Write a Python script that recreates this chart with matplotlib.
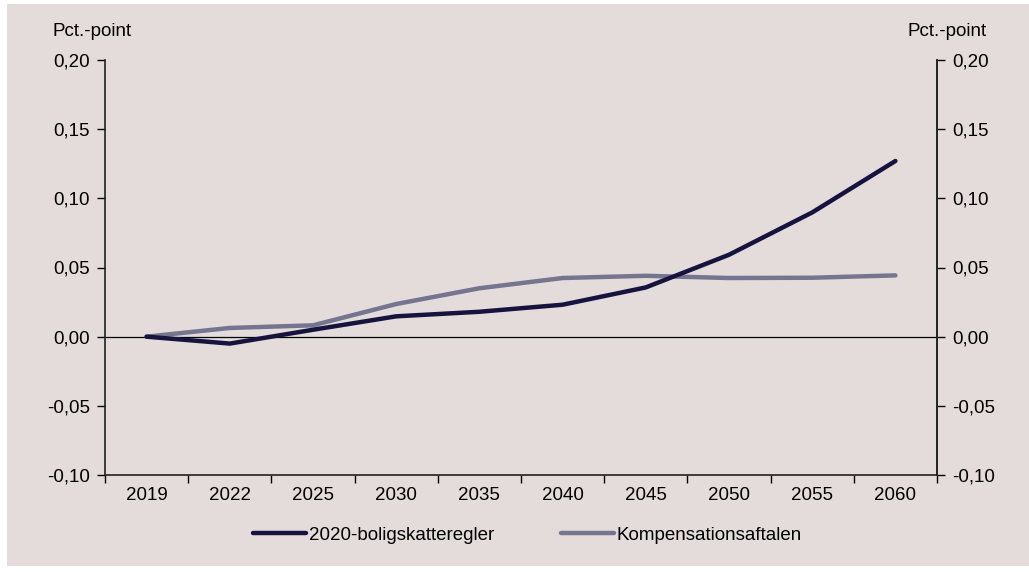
import numpy as np
import matplotlib.pyplot as plt
from matplotlib.patches import Rectangle
from matplotlib.ticker import FixedLocator, FuncFormatter

plt.rcParams['font.family'] = ['Liberation Sans', 'DejaVu Sans']

years = ['2019', '2022', '2025', '2030', '2035', '2040', '2045', '2050', '2055', '2060']
boligskat = [0.0, -0.005, 0.005, 0.0147, 0.018, 0.0231, 0.0356, 0.0592, 0.0898, 0.127]
kompensation = [0.0, 0.0063, 0.0082, 0.0236, 0.035, 0.0424, 0.044, 0.0424, 0.0426, 0.0443]

bg = '#e3dcdb'
c_dark = '#16143f'
c_gray = '#75758f'
fs = 13.5

fig = plt.figure(figsize=(10.29, 5.72), dpi=100)
fig.patch.set_facecolor('white')
fig.add_artist(Rectangle((7 / 1029, 1 - 566 / 572), 1 - 7 / 1029, (566 - 4) / 572,
                         transform=fig.transFigure, facecolor=bg, edgecolor='none', zorder=0))

ax = fig.add_axes([105 / 1029, 1 - 475 / 572, (937 - 105) / 1029, (475 - 60) / 572])
ax.patch.set_alpha(0)

x = np.arange(len(years))
ax.plot(x, boligskat, color=c_dark, lw=3.2, solid_capstyle='round', zorder=4,
        label='2020-boligskatteregler')
ax.plot(x, kompensation, color=c_gray, lw=3.2, solid_capstyle='round', zorder=3,
        label='Kompensationsaftalen')
ax.axhline(0, color='black', lw=0.9, zorder=2)

ax.set_xlim(-0.5, len(years) - 0.5)
ax.set_ylim(-0.10, 0.20)

fmt = FuncFormatter(lambda v, p: f'{v:.2f}'.replace('.', ','))
yt = np.arange(-0.10, 0.201, 0.05)
ax.set_yticks(yt)
ax.yaxis.set_major_formatter(fmt)
ax.tick_params(axis='y', direction='out', length=6, width=1, labelsize=fs, pad=5)

# category boundaries get the tick marks, the labels sit between them
ax.xaxis.set_major_locator(FixedLocator(np.arange(-0.5, len(years), 1.0)))
ax.xaxis.set_minor_locator(FixedLocator(x))
ax.set_xticklabels([])
ax.set_xticklabels(years, minor=True)
ax.tick_params(axis='x', which='major', direction='out', length=6, width=1)
ax.tick_params(axis='x', which='minor', length=0, labelsize=fs, pad=9)

for s in ['left', 'right', 'bottom']:
    ax.spines[s].set_color('#222222')
    ax.spines[s].set_linewidth(1.2)
ax.spines['top'].set_visible(False)

ax2 = ax.twinx()
ax2.set_ylim(ax.get_ylim())
ax2.set_yticks(yt)
ax2.yaxis.set_major_formatter(fmt)
ax2.tick_params(axis='y', direction='out', length=6, width=1, labelsize=fs, pad=5)
ax2.spines['right'].set_color('#222222')
ax2.spines['right'].set_linewidth(1.2)
ax2.spines['top'].set_visible(False)
ax2.spines['left'].set_visible(False)
ax2.spines['bottom'].set_visible(False)

fig.text(52 / 1029, 1 - 31 / 572, 'Pct.-point', fontsize=fs, va='center', ha='left')
fig.text(987 / 1029, 1 - 31 / 572, 'Pct.-point', fontsize=fs, va='center', ha='right')

ax.legend(loc='center', bbox_to_anchor=(0.508, -0.145), ncol=2, frameon=False,
          fontsize=fs, handlelength=2.8, handletextpad=0.15, columnspacing=3.6)

fig.savefig('out.png', dpi=100, facecolor='white')
